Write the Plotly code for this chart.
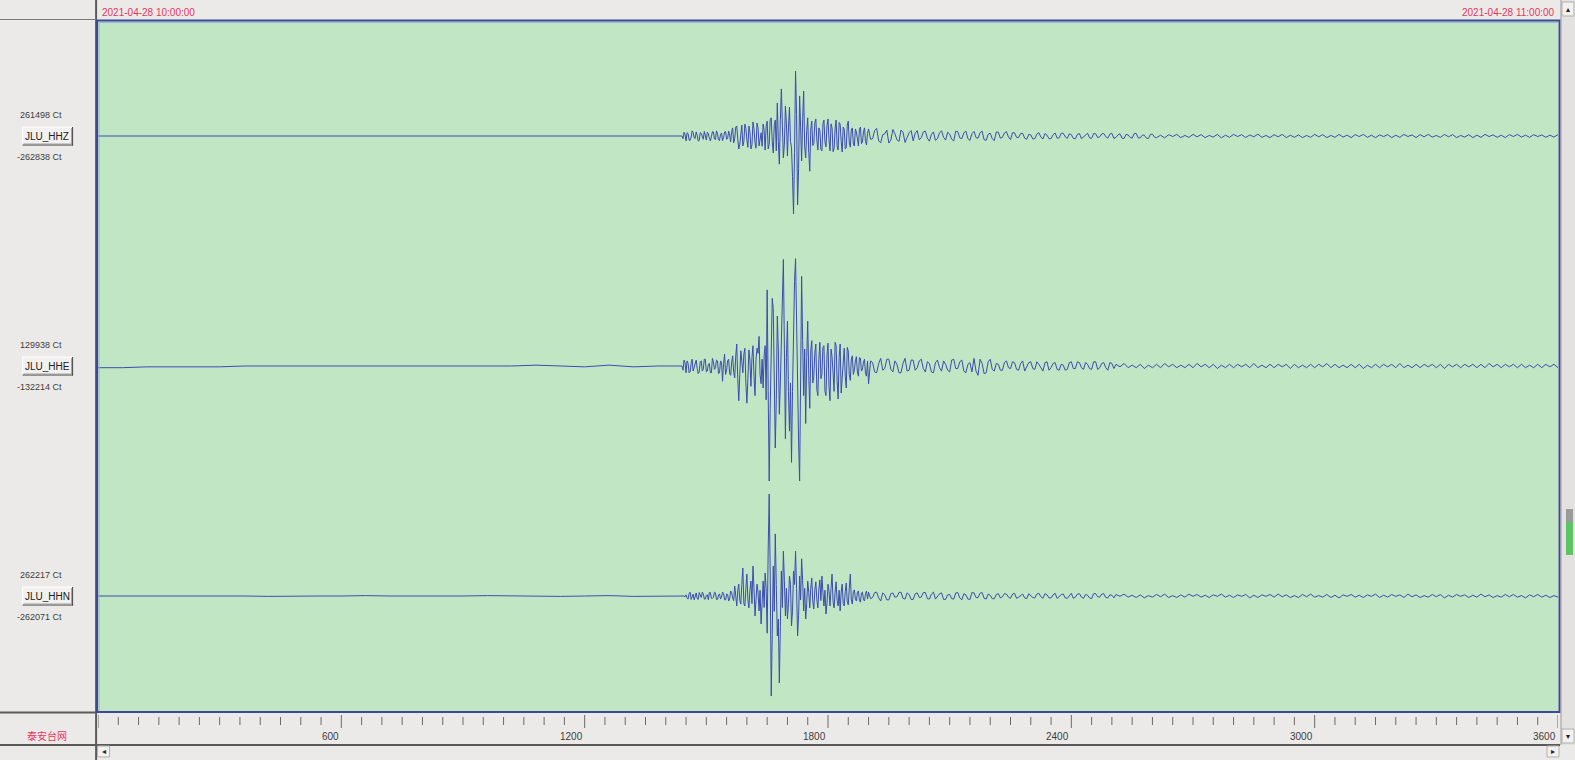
import numpy as np
import plotly.graph_objects as go

# ---------------- data (thousands of counts) ----------------
channels = ["JLU_HHZ", "JLU_HHE", "JLU_HHN"]
max_labels = ["261498 Ct", "129938 Ct", "262217 Ct"]
min_labels = ["-262838 Ct", "-132214 Ct", "-262071 Ct"]
start_label = "2021-04-28 10:00:00"
end_label = "2021-04-28 11:00:00"
tick_values = [600, 1200, 1800, 2400, 3000, 3600]
tick_labels = ["600", "1200", "1800", "2400", "3000", "3600"]
network_label = "泰安台网"

# sampling of the sections of each record (seconds); "_mid" samples sit half a step later
PRE_DT = 60
EVENT_T0, EVENT_DT = 1440, 5
CODA_T0, CODA_DT = 1900, 10

HHZ_pre = [0, 0, 0, -1, 0, 0, 1, 0, 0, -1, 0, 0, 0, 1, 0, -1, 0, 0, 1, 0, 0, -1, 1, -1]
HHZ_event = [0,
             14, -18, 9, -16, 19, -7, 15, -19, 12, -4, 17, -15, 8, -18, 16, -11, 19, -14, 6, -17, 15, -12, 18,
             -22, 30, -9, 37, -48, 20, -37, 44, -14, 37, -48, 52, -25, 48, -37, 12, 44,
             -52, 55, -30, 67, -63, 59,
             122, -104, 174, -81, 111, -74, 107, -44, -288, 240, -255, 148, -92, 166, -81, 67, -130,
             55, -28, 63, -52, 20, -55, 59, -40, 63, -55, 30, -48, 59, -52, 44, -59, 25, -44, 55,
             -41, 30, -37, 15, -37, 33, -22, 30, -33]
HHZ_event_mid = [-10, 6, 12, -15, -4, 13, -9, 3, -16, 10, -12, 5, 14, -8, -3, 15, -13, 7, -17, 11, -6, 16, -9, 4,
                 18, -25, 33, -12, -30, 40, -20, 28, -42, 15, -33, 25, -45, 30, -10, -38, 22,
                 35, -48, 60, -20, 40, -55,
                 -20, 60, 40, -30, 45, 30, -20, -150, -60, 80, -120, 30, 60, -40, 20, -60, 25,
                 -35, 48, -15, 30, -50, 44, -22, 37, -12, 45, -58, 26, -38, 50, -20, 33, -47, 40, -25,
                 22, -30, 26, -10, 25, -28, 15, -20, 10]
HHZ_coda = [26, -10, 28, -25, 8, -26, 24, -14, 22, -24, 12,
            -18, 20, -6, 18, -19, 15, -9, 19, -15, 7, -18, 16, -10, 18, -16,
            17, -8, 18, -16, 10, -17, 14, -5, 16, -13,
            12, -6, 10, -12, 4, -10, 12, -11, 3, -10, 11, -7, 10, -9, 5, -10, 9, -4, 10, -9,
            8, -3, 9, -8, 10, -5, 8, -9, 4, -8, 9, -7, 3, -9, 7,
            -6, 3, -7, 5, -2, 6, -6, 2, -5, 6, -3, 5, -6, 2, -4, 6, -7, 3, -5, 6,
            -2, 5, -6, 4, -3, 7, -5, 2, -6, 5, -3, 6, -6, 3, -5, 4, -6, 2, -5, 6,
            -3, 5, -6, 2, -5, 6, -4, 3, -6, 5, -2, 6, -5, 3, -6, 4, -2, 5, -6, 3,
            -5, 6, -2, 4, -6, 5, -3, 6, -4, 2, -5, 6, -3, 5, -6, 2, -4, 5, -6, 3,
            -5, 6, -2, 4, -5, 3, -6, 5, -2, 6, -4, 3, -5, 5, -2, 4, -5, 3, -4, 5,
            -2, 4, -4, 3]
HHZ_coda_mid = [-12, 20, -18, 5, 22, -15, 8, -20, 14, -6, 20,
                10, -14, 15, -8, 6, -16, 12, -5, 14, -12, 18, -7, 12, -10, 9,
                -6, 12, -14, 7, -10, 15, -8, 11, -4, 12,
                -5, 9, -8, 6, -11, 7, -4, 9, -10, 5, -8, 10, -3, 8, -9, 6, -10, 4, -7, 9,
                -6, 8, -3, 7, -9, 4, -8, 6, -5, 9, -7, 3, -8, 6, -4]

HHE_pre = [-2, -2, -1, -1, -1, -1, 0, 0, 0, 0, 0, 0, 0, 0, 0, 0, 0, 0, 1, 0, -1, 1, -1, 0]
HHE_event = [0,
             7, -8, 3, -7, 8, -2, 7, -9, 5, -6, 8, -7, 2, -8, 9, -4, 7, -9, 6,
             -18, 14, -5, 8, -11, 12, -14, 26, -41, 18, -8, 21, -44, 19, -24, 24, -35, 21, 35, -21,
             -26, 24, 90, -136, 47, 68, -97, 59, -57, 41, 126, -86, 53, -77, -114, 71, 127, -47, -136, 106,
             -35, -68, 53, -50,
             30, -12, 26, -35, 28, -10, 24, -35, 27, -41, 11, -30, 24, -39, 26, -14, 21, -26, 18,
             -17, 12, -5, 11, -12, 9, -4, 8, -12]
HHE_event_mid = [-5, 4, 6, -8, 3, -6, 5, -3, -7, 6, -4, 8, -6, 3, -8, 5, -2, 6, -8, 4,
                 3, -10, 6, -9, 5, -8, 12, -15, -10, 5, 14, -20, -15, 6, 10, -12, 8, 15, -10, 8,
                 12, -40, -30, -50, 80, -20, -40, 20, -20, 70, 20, 10, -30, -20, -30, 100, 40, -90, 20, 30,
                 20, 10, -10, 18,
                 -20, 15, -28, 8, -15, 22, -30, 12, -25, 20, -8, 28, -18, 10, -32, 16, -12, 22, -10,
                 8, -10, 6, -7, 10, -6, 5, -9, 6]
HHE_coda = [-21, 4, -8, 9, -3, 8, -7, 2, -8, 9, -5,
            7, -2, 8, -7, 3, -8, 7, -6, 2, -7, 8, -3, 7, -8, 4,
            9, -11, 3, -8, 8,
            -6, 2, -5, 6, -3, 4, -5, 6, -1, 5, -4, 2, -6, 5, -2, 4, -5, 1, -4, 5,
            -3, 4, -4, 2, -4, 5, -2, 4, -5, 3,
            2, -1, 3, -2, 1, -2, 2, -3, 1, -2, 2, -2, 3, -1, 2, -2, 1, -2, 2, -2,
            3, -1, 2, -2, 2, -3, 1, -2, 2, -2, 2, -1, 2, -2, 3, -2, 1, -2, 2, -2,
            2, -1, 2, -3, 2, -2, 1, -2, 2, -2, 2, -1, 3, -2, 2, -2, 1, -2, 2, -2,
            2, -3, 1, -2, 2, -2, 2, -1, 2, -2, 3, -2, 1, -2, 2, -2, 2, -1, 2, -2,
            2, -3, 2, -1, 2, -2, 2, -1, 2, -2, 2, -2, 3, -1, 2, -2, 2, -1, 2, -2,
            2, -2, 1, -2, 2, -2, 2, -1, 2, -2, 2, -2]
HHE_coda_mid = [6, -7, 3, -5, 8, -4, 6, -8, 3, -6, 7,
                -5, 6, -3, 5, -7, 4, -2, 6, -5, 7, -3, 5, -6, 2, -7,
                -6, 8, -9, 5, -4,
                3, -5, 4, -2, 5, -4, 3, -6, 4, -3, 5, -2, 4, -5, 3, -4, 2, -5, 4, -3,
                5, -2, 4, -3, 5, -4, 3, -2, 4, -3]

HHN_pre = [0, 0, 0, 0, 1, 0, 0, -1, 0, 0, 0, 1, 0, 0, -1, 0, 1, 0, 0, -1, 0, 1, -1, 0]
HHN_event = [0, 0, 3,
             -8, 10, -3, -10, 8, -9, 4, 10, -8, 2, -10, 9, -6, 10, -9, 3, -8, 10, -10, 5, -13, 13, -6,
             26, -26, 31, -21, 73, -26, 57, -31, 39, 78, -52, 31, -39, -73,
             39, 60, -97, 266, -261, 78, 162, -104, -227, 65, 117, -52, -60, 52, -78, 65, 117, -104, 52, 97,
             -39, -60, 39, -31, 47, -34, 37, -31, 42, 52, -26, -47, 31, -26, 57, -31, 37, -26, -39, 31,
             -26, 34, -23, 57, -21, 16, -13, 13, -16, 10, -13, 13]
HHN_event_mid = [0, -2, -5, 6, -9, 5, 3, -7, 9, -4, 6, -8, 3, 9, -6, -4, 8, -9, 5, -3, 7, -10, 4, -8, 10, -12,
                 -10, 15, -12, 30, -20, 20, -10, 15, -20, 20, -10, 10, 15, -20, -30, 20, 120, 60, -100, -40,
                 30, -60, -80, -30, 40, 20, -20, 30, -40, 30, 20, -50, -10, 40, 20, -20, 10, 20, -15, 15,
                 -10, 18, -12, 10, 15, -20, 12, 20, -15, 10, -12, 15, 10, -20, 12, -15, 20, -10, 12, -8,
                 10, -12, 8, -10, 6, -8]
HHN_coda = [10, -4, 10, -13, 3, -10, 8, -2, 10, -8, 4,
            -9, 8, -3, 9, -8, 10, -2, 8, -9, 4, -8, 9, -10, 3, -9, 8, -4, 9, -8, 2,
            -7, 6, -2, 5, -6, 7, -3, 5, -7, 2, -5, 7, -6, 3, -5, 7, -2, 5, -6, 7,
            -3, 6, -6, 2, -7, 6, -3, 6, -5, 2,
            4, -1, 5, -3, 2, -4, 3, -5, 1, -3, 4, -2, 5, -4, 1, -4, 3, -3, 5, -1,
            4, -3, 2, -4, 3, -1, 5, -3, 2, -4, 3, -1, 4, -5, 2, -4, 3, -1, 4, -3,
            5, -2, 3, -4, 1, -4, 4, -2, 5, -3, 1, -3, 4, -4, 2, -5, 3, -1, 4, -3,
            2, -4, 3, -1, 5, -4, 2, -3, 4, -1, 3, -4, 5, -2, 3, -4, 1, -3, 4, -2,
            4, -5, 2, -3, 4, -1, 3, -4, 2, -3, 5, -2, 3, -4, 1, -3, 4, -2, 4, -3,
            1, -5, 3, -2, 4, -3, 2, -4, 1, -3]
HHN_coda_mid = [-7, 9, -5, 8, -10, 6, -3, 9, -6, 8, -9,
                6, -4, 9, -7, 5, -8, 6, -9, 3, -7, 8, -5, 6, -8, 9, -4, 7, -6, 5, -7,
                4, -5, 6, -3, 5, -6, 2, -5, 6, -4, 5, -2, 6, -5, 3, -6, 4, -5, 2, -6,
                5, -3, 4, -5, 6, -2, 5, -4, 3, -5]

# ---------------- geometry / style ----------------
W, H = 1575, 760
PL, PR, PT, PB = 98.4, 1558, 21, 711
GRAY = "#ECEAE8"
GREEN = "#C0E6C4"
TRACE = "#3a4cb0"
RED = "#E5375A"
TXT = "#3c3c3c"


def xp(px):
    return (px - PL) / (PR - PL)


def yp(py):
    return (PB - py) / (PB - PT)


def build(pre, ev, ev_mid, coda, coda_mid):
    t = np.concatenate([PRE_DT * np.arange(len(pre)),
                        EVENT_T0 + EVENT_DT * np.arange(len(ev)),
                        EVENT_T0 + EVENT_DT / 2 + EVENT_DT * np.arange(len(ev_mid)),
                        CODA_T0 + CODA_DT * np.arange(len(coda)),
                        CODA_T0 + CODA_DT / 2 + CODA_DT * np.arange(len(coda_mid))])
    v = np.array(pre + ev + ev_mid + coda + coda_mid, dtype=float) * 1000.0
    order = np.argsort(t, kind="stable")
    return t[order], v[order]


records = [
    (HHZ_pre, HHZ_event, HHZ_event_mid, HHZ_coda, HHZ_coda_mid, "y3"),
    (HHE_pre, HHE_event, HHE_event_mid, HHE_coda, HHE_coda_mid, "y2"),
    (HHN_pre, HHN_event, HHN_event_mid, HHN_coda, HHN_coda_mid, "y"),
]

fig = go.Figure()
for (pre, ev, evm, coda, codam, ax) in records:
    t, y = build(pre, ev, evm, coda, codam)
    fig.add_trace(go.Scatter(x=t, y=y, yaxis=ax, mode="lines",
                             line=dict(color=TRACE, width=1), hoverinfo="skip"))

shapes = []
annotations = []


def rect(x0, y0, x1, y1, fill=None, line=None, lw=1, layer="above"):
    shapes.append(dict(type="rect", xref="paper", yref="paper",
                       x0=xp(x0), x1=xp(x1), y0=yp(y0), y1=yp(y1),
                       fillcolor=fill if fill else "rgba(0,0,0,0)",
                       line=dict(color=line if line else "rgba(0,0,0,0)", width=lw if line else 0),
                       layer=layer))


def hline(x0, x1, y, color, lw=1):
    shapes.append(dict(type="line", xref="paper", yref="paper",
                       x0=xp(x0), x1=xp(x1), y0=yp(y), y1=yp(y),
                       line=dict(color=color, width=lw)))


def vline(x, y0, y1, color, lw=1):
    shapes.append(dict(type="line", xref="paper", yref="paper",
                       x0=xp(x), x1=xp(x), y0=yp(y0), y1=yp(y1),
                       line=dict(color=color, width=lw)))


def text(x, y, s, size=9, color=TXT, anchor="center", family="Liberation Sans"):
    annotations.append(dict(xref="paper", yref="paper", x=xp(x), y=yp(y), text=s,
                            showarrow=False, xanchor=anchor, yanchor="middle",
                            font=dict(size=size, color=color, family=family)))


# panel separators
vline(96.5, 0, 760, "#5a5a5a", 2)
hline(0, 97, 19.5, "#7a7a7a", 1)
hline(0, 97, 712.5, "#5a5a5a", 2)
hline(0, 1560, 745, "#5a5a5a", 2)

# plot frame
rect(97.5, 20.5, 1559.5, 712, None, "#3b4a95", 2)
hline(99, 1558, 22.5, "#9fb3df", 1)
vline(99.5, 22, 711, "#9fb3df", 1)

# header dates
text(100, 12, start_label, 10, RED, "left")
text(1557, 12, end_label, 10, RED, "right")

# channel labels & buttons
baselines = [136, 366, 596]
for name, mx, mn, yb in zip(channels, max_labels, min_labels, baselines):
    text(64, yb - 21, mx, 9, TXT, "right")
    text(64, yb + 21, mn, 9, TXT, "right")
    rect(23, yb - 9, 73, yb + 9, "#F2F1EF", None)
    hline(23, 73, yb - 9, "#ffffff", 1)
    vline(23, yb - 9, yb + 9, "#ffffff", 1)
    hline(23, 73.5, yb + 9, "#404040", 1)
    vline(73, yb - 9, yb + 9.5, "#404040", 1)
    hline(24, 72, yb + 8, "#a0a0a0", 1)
    vline(72, yb - 8, yb + 8, "#a0a0a0", 1)
    text(47.5, yb + 0.5, name, 10, "#202020", "center")

# time-axis ticks (every 50 s, labelled every 600 s)
for tv in range(0, 3601, 50):
    major = tv % 600 == 0
    shapes.append(dict(type="line", xref="x", yref="paper", x0=tv, x1=tv,
                       y0=yp(715 if major else 717), y1=yp(728 if major else 725),
                       line=dict(color="#6a6a6a", width=1)))
for tv, lab in zip(tick_values, tick_labels):
    annotations.append(dict(xref="x", yref="paper", x=tv, y=yp(736), text=lab,
                            showarrow=False, xanchor="right", yanchor="middle",
                            font=dict(size=10, color=TXT, family="Liberation Sans")))

text(47.5, 735, network_label, 10, RED, "center", "Noto Sans CJK SC")

# horizontal scrollbar arrows
rect(98, 746, 110, 757, "#F2F1EF", "#b0b0b0")
text(104, 751.5, "◂", 8, "#202020")
rect(1547, 746, 1559, 757, "#F2F1EF", "#b0b0b0")
text(1553, 751.5, "▸", 8, "#202020")

# vertical scrollbar
rect(1561, 0, 1575, 745, "#E4E2E0", None)
vline(1561, 0, 745, "#9a9a9a", 1)
rect(1562, 2, 1574, 16, "#F2F1EF", "#b0b0b0")
text(1568, 9, "▴", 8, "#202020")
rect(1562, 729, 1574, 743, "#F2F1EF", "#b0b0b0")
text(1568, 736, "▾", 8, "#202020")
rect(1566, 509, 1573, 522, "#9a9a9a", None)
rect(1566, 522, 1573, 555, "#5cc462", None)

fig.update_layout(
    width=W, height=H,
    margin=dict(l=PL, r=W - PR, t=PT, b=H - PB, pad=0),
    paper_bgcolor=GRAY, plot_bgcolor=GREEN,
    showlegend=False,
    xaxis=dict(domain=[0, 1], range=[0, 3600], visible=False, fixedrange=True),
    yaxis=dict(domain=[0, 1 / 3], range=[-300e3, 300e3], visible=False, anchor="x"),
    yaxis2=dict(domain=[1 / 3, 2 / 3], range=[-136e3, 136e3], visible=False, anchor="x"),
    yaxis3=dict(domain=[2 / 3, 1], range=[-425e3, 425e3], visible=False, anchor="x"),
    shapes=shapes, annotations=annotations,
)

fig.write_html("out.html", config={"displayModeBar": False},
               post_script="document.body.style.margin='0';document.body.style.overflow='hidden';")
